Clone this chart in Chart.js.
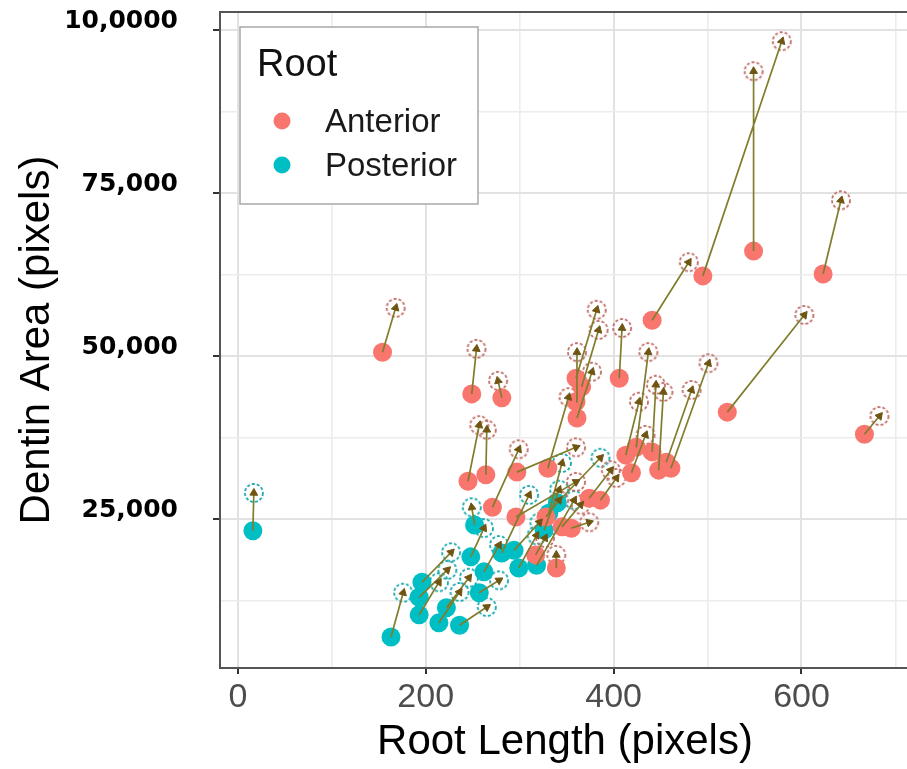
<!DOCTYPE html>
<html>
<head>
<meta charset="utf-8">
<script src="https://cdn.jsdelivr.net/npm/chart.js@4.4.1/dist/chart.umd.min.js"></script>
<style>
html,body{margin:0;padding:0;background:#fff;overflow:hidden;}
canvas{display:block;}
</style>
</head>
<body>
<canvas id="c" width="920" height="769"></canvas>
<script>
// ---------------- data ----------------
const groups = ['Anterior', 'Posterior'];
const legendTitle = 'Root';
const xTitle = 'Root Length (pixels)';
const yTitle = 'Dentin Area (pixels)';

const xGridValues = [0, 100, 200, 300, 400, 500, 600, 700];
const xTickValues = [0, 200, 400, 600];
const yGridValues = [12500, 25000, 37500, 50000, 62500, 75000, 87500, 100000];
const yTickValues = [25000, 50000, 75000, 100000];
const yTickLabels = ['25,000', '50,000', '75,000', '10,0000'];

// Anterior: start (filled) -> end (hollow)
const antX0 = [154,249,281,245,264,271,297,330,360,366,360,361,406,441,495,549,623,521,667,424,413,441,448,461,456,419,296,374,386,328,345,355,339,317];
const antY0 = [50600,44200,43600,30800,31800,26800,32200,32800,46600,45300,43000,40500,46600,55500,62300,66100,62600,41400,38000,36000,34800,35300,32500,32800,33700,32100,25300,28200,27900,25300,23800,23600,17500,19500];
const antX1 = [168,254,277,257,265,299,360,352,382,384,361,377,409,480,579,549,642,603,683,437,427,445,453,501,483,434,360,397,403,342,365,374,339,327];
const antY1 = [57400,51100,46200,39400,38700,35700,36000,43700,57100,54000,50600,47600,54300,64400,98300,93700,73900,56300,40800,50600,43000,45600,44500,48900,44800,37900,30700,32500,31300,27900,27200,24500,19500,22100];

// Posterior: start (filled) -> end (hollow)
const postX0 = [16,163,196,193,193,214,222,236,252,248,262,281,294,299,318,340,257,331,326];
const postY0 = [23200,6900,15300,13000,10300,9100,11400,8700,24100,19200,16900,19800,20200,17500,17900,27500,13700,25900,23300];
const postX1 = [17,176,227,223,214,236,246,265,249,262,278,310,321,318,358,386,278,345,342];
const postY1 = [29000,13700,19900,17200,15300,13800,16000,11500,26800,23600,21000,28700,24500,22500,27900,34400,15600,33600,29500];

// ---------------- styles ----------------
const groupColors = ['#F8766D', '#00BFC4'];
const ringColors = ['#c0706a', '#1aa9ad'];
const segColor = '#807d2c';
const arrowColor = '#6e5512';
const sans = 'Arial, "Liberation Sans", sans-serif';

function pts(xs, ys) { return xs.map((x, i) => ({ x: x, y: ys[i] })); }
function segs(x0, y0, x1, y1) {
  const out = [];
  x0.forEach((x, i) => { out.push({ x: x, y: y0[i] }, { x: x1[i], y: y1[i] }, { x: null, y: null }); });
  return out;
}
function ring(color) {
  const c = document.createElement('canvas');
  c.width = 24; c.height = 24;
  const g = c.getContext('2d');
  g.strokeStyle = color; g.lineWidth = 1.8;
  g.setLineDash([3, 2]);
  g.beginPath(); g.arc(12, 12, 9, 0, Math.PI * 2); g.stroke();
  return c;
}
function arrowRot(x0, y0, x1, y1) {
  return (ctx) => {
    const i = ctx.dataIndex;
    const xs = ctx.chart.scales.x, ys = ctx.chart.scales.y;
    if (!xs || !ys || i === undefined) return 0;
    const dx = xs.getPixelForValue(x1[i]) - xs.getPixelForValue(x0[i]);
    const dy = ys.getPixelForValue(y1[i]) - ys.getPixelForValue(y0[i]);
    return Math.atan2(dx, -dy) * 180 / Math.PI;
  };
}

const legendPlugin = {
  id: 'rootLegend',
  afterDraw(chart) {
    const ctx = chart.ctx, a = chart.chartArea;
    const L = a.left + 20, T = a.top + 15;
    ctx.save();
    ctx.fillStyle = '#ffffff';
    ctx.fillRect(L, T, 238, 177);
    ctx.strokeStyle = '#a8a8a8'; ctx.lineWidth = 1.5;
    ctx.strokeRect(L, T, 238, 177);
    ctx.fillStyle = '#111';
    ctx.font = '38px ' + sans;
    ctx.textBaseline = 'alphabetic';
    ctx.fillText(legendTitle, L + 17, T + 49);
    groups.forEach((g, i) => {
      const y = T + 96 + i * 44;
      ctx.beginPath();
      ctx.fillStyle = groupColors[i];
      ctx.arc(L + 42, y - 2, 8.5, 0, Math.PI * 2);
      ctx.fill();
      ctx.fillStyle = '#1a1a1a';
      ctx.font = '33px ' + sans;
      ctx.textBaseline = 'middle';
      ctx.fillText(g, L + 85, y);
    });
    ctx.restore();
  }
};

const isMajorX = (c) => c.tick && xTickValues.includes(c.tick.value);
const isMajorY = (c) => c.tick && yTickValues.includes(c.tick.value);

new Chart(document.getElementById('c'), {
  type: 'scatter',
  data: {
    datasets: [
      { label: 'arrowA', data: pts(antX1, antY1), pointStyle: 'triangle', pointRadius: 4.5,
        pointRotation: arrowRot(antX0, antY0, antX1, antY1),
        backgroundColor: arrowColor, borderColor: arrowColor, borderWidth: 1 },
      { label: 'arrowP', data: pts(postX1, postY1), pointStyle: 'triangle', pointRadius: 4.5,
        pointRotation: arrowRot(postX0, postY0, postX1, postY1),
        backgroundColor: arrowColor, borderColor: arrowColor, borderWidth: 1 },
      { label: 'segA', data: segs(antX0, antY0, antX1, antY1), showLine: true, spanGaps: false,
        pointRadius: 0, borderColor: segColor, borderWidth: 1.7 },
      { label: 'segP', data: segs(postX0, postY0, postX1, postY1), showLine: true, spanGaps: false,
        pointRadius: 0, borderColor: segColor, borderWidth: 1.7 },
      { label: groups[0], data: pts(antX0, antY0), pointRadius: 9.5,
        backgroundColor: groupColors[0], borderWidth: 0 },
      { label: groups[1], data: pts(postX0, postY0), pointRadius: 9.5,
        backgroundColor: groupColors[1], borderWidth: 0 },
      { label: groups[0] + ' end', data: pts(antX1, antY1), pointRadius: 9,
        pointStyle: ring(ringColors[0]) },
      { label: groups[1] + ' end', data: pts(postX1, postY1), pointRadius: 9,
        pointStyle: ring(ringColors[1]) }
    ]
  },
  options: {
    responsive: false,
    animation: false,
    devicePixelRatio: 1,
    events: [],
    layout: { padding: { top: 12, right: 8, left: 0, bottom: 0 } },
    plugins: { legend: { display: false }, tooltip: { enabled: false } },
    scales: {
      x: {
        type: 'linear', position: 'bottom', min: -19, max: 715.5,
        afterBuildTicks: (s) => { s.ticks = xGridValues.map(v => ({ value: v })); },
        afterFit: (s) => { s.height = 101; s.paddingLeft = 0; s.paddingRight = 0; },
        grid: {
          color: (c) => isMajorX(c) ? '#e2e2e2' : '#ececec',
          lineWidth: (c) => isMajorX(c) ? 2 : 1.6,
          tickLength: 6,
          tickColor: (c) => isMajorX(c) ? '#333333' : 'rgba(0,0,0,0)',
          tickWidth: 2
        },
        border: { color: '#555555', width: 2 },
        ticks: {
          autoSkip: false, maxRotation: 0,
          callback: (v) => xTickValues.includes(v) ? String(v) : '',
          color: '#4d4d4d', font: { family: sans, size: 34 }, padding: 3
        },
        title: { display: true, text: xTitle, color: '#000',
          font: { family: sans, size: 42, lineHeight: 1 }, padding: { top: 0, bottom: 6 } }
      },
      xTop: {
        type: 'linear', position: 'top', min: -19, max: 715.5,
        ticks: { display: false }, grid: { display: false },
        border: { display: true, color: '#555555', width: 2 },
        afterFit: (s) => { s.height = 0; s.paddingLeft = 0; s.paddingRight = 0; }
      },
      y: {
        type: 'linear', position: 'left', min: 2150, max: 102780,
        afterBuildTicks: (s) => { s.ticks = yGridValues.map(v => ({ value: v })); },
        afterFit: (s) => { s.width = 220; s.paddingTop = 0; s.paddingBottom = 0; },
        grid: {
          color: (c) => isMajorY(c) ? '#e2e2e2' : '#ececec',
          lineWidth: (c) => isMajorY(c) ? 2 : 1.6,
          tickLength: 7,
          tickColor: (c) => isMajorY(c) ? '#333333' : 'rgba(0,0,0,0)',
          tickWidth: 2
        },
        border: { color: '#555555', width: 2 },
        ticks: {
          autoSkip: false,
          callback: (v) => { const k = yTickValues.indexOf(v); return k >= 0 ? yTickLabels[k] : ''; },
          color: '#000', font: { family: '"DejaVu Sans", sans-serif', size: 25, weight: 'bold' },
          padding: 35, labelOffset: -9
        },
        title: { display: true, text: yTitle, color: '#000',
          font: { family: sans, size: 42, lineHeight: 1 }, padding: { top: 16, bottom: 0 } }
      }
    }
  },
  plugins: [legendPlugin]
});
</script>
</body>
</html>
